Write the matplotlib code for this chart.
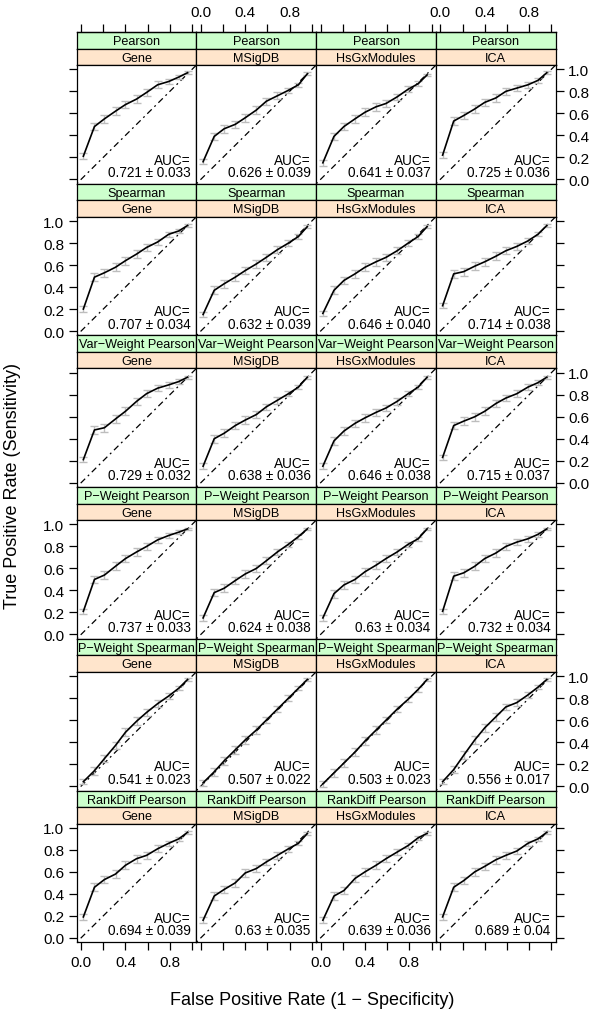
import matplotlib
matplotlib.use("Agg")
import matplotlib.pyplot as plt

plt.rcParams['font.family'] = ['Liberation Sans', 'DejaVu Sans']

# Data
methods = ["Pearson", "Spearman", "Var\u2212Weight Pearson", "P\u2212Weight Pearson",
           "P\u2212Weight Spearman", "RankDiff Pearson"]
gene_sets = ["Gene", "MSigDB", "HsGxModules", "ICA"]

fpr = [0.02, 0.12, 0.21, 0.31, 0.40, 0.50, 0.59, 0.69, 0.79, 0.88, 0.96]
err = [0.025, 0.035, 0.035, 0.035, 0.035, 0.035, 0.03, 0.03, 0.025, 0.02, 0.012]

tpr_pearson = [
    [0.21, 0.48, 0.55, 0.62, 0.68, 0.73, 0.79, 0.86, 0.89, 0.93, 0.97],
    [0.16, 0.39, 0.46, 0.50, 0.56, 0.63, 0.71, 0.76, 0.81, 0.86, 0.96],
    [0.15, 0.39, 0.48, 0.55, 0.61, 0.66, 0.69, 0.75, 0.82, 0.87, 0.95],
    [0.22, 0.53, 0.58, 0.64, 0.70, 0.74, 0.80, 0.83, 0.86, 0.90, 0.97],
]
tpr_spearman = [
    [0.20, 0.49, 0.53, 0.58, 0.64, 0.70, 0.76, 0.81, 0.88, 0.91, 0.96],
    [0.15, 0.37, 0.43, 0.49, 0.55, 0.61, 0.67, 0.74, 0.80, 0.86, 0.95],
    [0.16, 0.37, 0.46, 0.52, 0.58, 0.63, 0.67, 0.73, 0.80, 0.86, 0.95],
    [0.23, 0.52, 0.54, 0.59, 0.63, 0.68, 0.73, 0.77, 0.82, 0.88, 0.96],
]
tpr_varweight = [
    [0.21, 0.48, 0.50, 0.58, 0.65, 0.74, 0.81, 0.86, 0.89, 0.92, 0.96],
    [0.15, 0.40, 0.45, 0.52, 0.57, 0.62, 0.69, 0.75, 0.81, 0.87, 0.96],
    [0.15, 0.38, 0.47, 0.54, 0.59, 0.64, 0.68, 0.74, 0.81, 0.87, 0.96],
    [0.23, 0.52, 0.56, 0.60, 0.65, 0.72, 0.77, 0.81, 0.87, 0.91, 0.96],
]
tpr_pweight_p = [
    [0.21, 0.50, 0.54, 0.62, 0.69, 0.75, 0.80, 0.86, 0.90, 0.93, 0.96],
    [0.15, 0.38, 0.42, 0.49, 0.55, 0.60, 0.67, 0.75, 0.82, 0.89, 0.96],
    [0.15, 0.37, 0.45, 0.50, 0.57, 0.63, 0.69, 0.75, 0.82, 0.87, 0.96],
    [0.21, 0.53, 0.56, 0.62, 0.69, 0.74, 0.80, 0.84, 0.87, 0.91, 0.96],
]
tpr_pweight_s = [
    [0.04, 0.14, 0.25, 0.37, 0.49, 0.59, 0.67, 0.75, 0.82, 0.89, 0.97],
    [0.03, 0.13, 0.23, 0.33, 0.42, 0.51, 0.60, 0.70, 0.80, 0.89, 0.97],
    [0.02, 0.12, 0.21, 0.31, 0.41, 0.51, 0.60, 0.70, 0.79, 0.88, 0.97],
    [0.04, 0.15, 0.28, 0.42, 0.53, 0.63, 0.72, 0.76, 0.83, 0.90, 0.97],
]
tpr_rankdiff = [
    [0.19, 0.46, 0.53, 0.58, 0.66, 0.72, 0.75, 0.81, 0.86, 0.90, 0.96],
    [0.16, 0.38, 0.44, 0.50, 0.59, 0.63, 0.69, 0.75, 0.81, 0.86, 0.95],
    [0.16, 0.38, 0.43, 0.54, 0.60, 0.66, 0.72, 0.78, 0.84, 0.91, 0.95],
    [0.19, 0.46, 0.52, 0.60, 0.65, 0.71, 0.75, 0.79, 0.86, 0.90, 0.96],
]
tpr_all = [tpr_pearson, tpr_spearman, tpr_varweight, tpr_pweight_p, tpr_pweight_s, tpr_rankdiff]

auc_labels = [
    ["0.721 \u00b1 0.033", "0.626 \u00b1 0.039", "0.641 \u00b1 0.037", "0.725 \u00b1 0.036"],
    ["0.707 \u00b1 0.034", "0.632 \u00b1 0.039", "0.646 \u00b1 0.040", "0.714 \u00b1 0.038"],
    ["0.729 \u00b1 0.032", "0.638 \u00b1 0.036", "0.646 \u00b1 0.038", "0.715 \u00b1 0.037"],
    ["0.737 \u00b1 0.033", "0.624 \u00b1 0.038", "0.63 \u00b1 0.034", "0.732 \u00b1 0.034"],
    ["0.541 \u00b1 0.023", "0.507 \u00b1 0.022", "0.503 \u00b1 0.023", "0.556 \u00b1 0.017"],
    ["0.694 \u00b1 0.039", "0.63 \u00b1 0.035", "0.639 \u00b1 0.036", "0.689 \u00b1 0.04"],
]

ticks = [0.0, 0.2, 0.4, 0.6, 0.8, 1.0]
xlabels = ["0.0", "", "0.4", "", "0.8", ""]
ylabels = ["0.0", "0.2", "0.4", "0.6", "0.8", "1.0"]

# Layout in pixels
W, H = 600, 1012
L, CW = 76.7, 119.75
T, RH, SH = 33.0, 151.7, 16.5
PH = RH - 2 * SH
green, peach = "#ccffcc", "#ffe5cc"

fig = plt.figure(figsize=(W / 100, H / 100), dpi=100)


def box(x, y, w, h):
    return [x / W, 1 - (y + h) / H, w / W, h / H]


for r in range(6):
    for c in range(4):
        x0 = L + c * CW
        y0 = T + r * RH
        # strips
        for k, (col, txt) in enumerate([(green, methods[r]), (peach, gene_sets[c])]):
            sa = fig.add_axes(box(x0, y0 + k * SH, CW, SH))
            sa.set_facecolor(col)
            sa.set_xticks([])
            sa.set_yticks([])
            for s in sa.spines.values():
                s.set_linewidth(0.9)
            sa.text(0.5, 0.45, txt, ha="center", va="center", fontsize=9.1,
                    transform=sa.transAxes)

        ax = fig.add_axes(box(x0, y0 + 2 * SH, CW, PH))
        ax.set_xlim(-0.04, 1.04)
        ax.set_ylim(-0.04, 1.04)
        for s in ax.spines.values():
            s.set_linewidth(0.9)

        ax.plot([-0.04, 1.04], [-0.04, 1.04], color="black", lw=0.9,
                linestyle=(0, (1.5, 3, 5, 3)))
        y = tpr_all[r][c]
        ax.errorbar(fpr, y, yerr=err, fmt="none", ecolor="#bdbdbd",
                    elinewidth=1.0, capsize=3, capthick=1.0)
        ax.plot(fpr, y, color="black", lw=1.2)
        ax.text(0.955, 0.04, "AUC=\n" + auc_labels[r][c], ha="right", va="bottom",
                fontsize=9.8, linespacing=0.85, transform=ax.transAxes)

        ax.tick_params(direction="out", length=6, width=0.9, labelsize=11, pad=3)
        ax.set_xticks([])
        ax.set_yticks([])

        if r == 5:
            ax.set_xticks(ticks)
            ax.set_xticklabels(xlabels if c in (0, 2) else [""] * 6)
        if r == 0:
            sec = ax.secondary_xaxis(1 + 2 * SH / PH)
            sec.set_xticks(ticks)
            sec.set_xticklabels(xlabels if c in (1, 3) else [""] * 6)
            sec.tick_params(direction="out", length=6, width=0.9, labelsize=11, pad=3)
            sec.spines["top"].set_linewidth(0.9)
        if c == 0:
            ax.set_yticks(ticks)
            ax.set_yticklabels(ylabels if r in (1, 3, 5) else [""] * 6)
        if c == 3:
            ax.yaxis.tick_right()
            ax.set_yticks(ticks)
            ax.set_yticklabels(ylabels if r in (0, 2, 4) else [""] * 6)

fig.text(312 / W, 1 - 1001 / H, "False Positive Rate (1 \u2212 Specificity)",
         ha="center", va="center", fontsize=13)
fig.text(13 / W, 1 - 486 / H, "True Positive Rate (Sensitivity)",
         ha="center", va="center", rotation=90, fontsize=13)

fig.savefig("out.png", dpi=100)
